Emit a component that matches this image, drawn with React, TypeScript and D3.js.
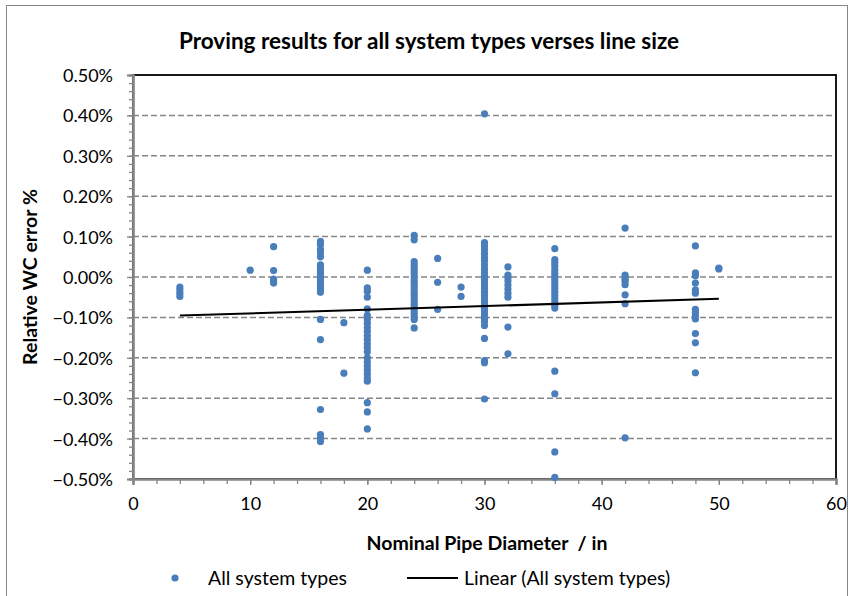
import React, { useEffect, useRef } from 'react';
import * as d3 from 'd3';

// Nominal pipe diameters (in) and relative WC error (%) proved at each one
const diameters = [4, 10, 12, 16, 18, 20, 24, 26, 28, 30, 32, 36, 42, 48, 50];
const errorsByDiameter = [
  [-0.025, -0.032, -0.040, -0.048],
  [0.017],
  [0.075, 0.016, -0.005, -0.010, -0.015],
  [0.088, 0.080, 0.068, 0.060, 0.050, 0.030, 0.024, 0.018, 0.010, 0.003, -0.005, -0.012, -0.018, -0.025, -0.032, -0.038, -0.105, -0.155, -0.328, -0.390, -0.398, -0.407],
  [-0.113, -0.238],
  [0.017, -0.027, -0.035, -0.050, -0.079, -0.095, -0.105, -0.115, -0.125, -0.135, -0.145, -0.155, -0.165, -0.175, -0.185, -0.200, -0.210, -0.220, -0.230, -0.240, -0.250, -0.258, -0.311, -0.334, -0.376],
  [0.103, 0.092, 0.038, 0.030, 0.022, 0.015, 0.008, 0.000, -0.008, -0.015, -0.022, -0.030, -0.038, -0.045, -0.052, -0.060, -0.068, -0.075, -0.082, -0.090, -0.098, -0.105, -0.126],
  [0.046, -0.013, -0.080],
  [-0.025, -0.048],
  [0.404, 0.085, 0.077, 0.068, 0.058, 0.048, 0.040, 0.030, 0.020, 0.011, 0.002, -0.006, -0.014, -0.022, -0.030, -0.038, -0.046, -0.054, -0.062, -0.070, -0.078, -0.086, -0.094, -0.102, -0.110, -0.120, -0.152, -0.207, -0.212, -0.302],
  [0.025, 0.005, -0.002, -0.010, -0.020, -0.030, -0.040, -0.050, -0.124, -0.190],
  [0.070, 0.043, 0.035, 0.027, 0.018, 0.010, 0.002, -0.006, -0.014, -0.022, -0.030, -0.038, -0.046, -0.054, -0.062, -0.070, -0.077, -0.233, -0.289, -0.433, -0.496],
  [0.121, 0.005, -0.001, -0.006, -0.011, -0.019, -0.044, -0.066, -0.398],
  [0.077, 0.010, 0.003, -0.015, -0.032, -0.040, -0.080, -0.088, -0.096, -0.104, -0.140, -0.163, -0.237],
  [0.022, 0.020],
];

// Linear trend line end points (x in, y %)
const trendX = [4, 50];
const trendY = [-0.0955, -0.054];

const FONT = "Lato, 'Open Sans', sans-serif";
const GREY = '#868686';
const BLUE = '#4a7ebb';

const App = () => {
  const svgRef = useRef(null);

  useEffect(() => {
    document.body.style.margin = '0';
    const svg = d3.select(svgRef.current);
    svg.selectAll('*').remove();

    const width = 854;
    const height = 596;
    const plot = { left: 133, right: 836, top: 75, bottom: 479 };

    const x = d3.scaleLinear().domain([0, 60]).range([plot.left, plot.right]);
    const y = d3.scaleLinear().domain([-0.5, 0.5]).range([plot.bottom, plot.top]);

    svg.attr('width', width).attr('height', height);

    svg.append('rect')
      .attr('x', 0).attr('y', 0).attr('width', width).attr('height', height)
      .attr('fill', 'white');

    // chart frame
    svg.append('rect')
      .attr('x', 6.5).attr('y', 5.5).attr('width', 841).attr('height', 600)
      .attr('fill', 'none').attr('stroke', GREY).attr('stroke-width', 1);

    // title
    svg.append('text')
      .attr('x', 429).attr('y', 49)
      .attr('text-anchor', 'middle')
      .attr('font-family', FONT).attr('font-weight', 'bold').attr('font-size', '22.5px')
      .attr('fill', '#000')
      .text('Proving results for all system types verses line size');

    // gridlines
    svg.append('g')
      .selectAll('line')
      .data(y.ticks(10).filter(d => d > -0.5 && d < 0.5))
      .enter().append('line')
      .attr('x1', plot.left).attr('x2', plot.right)
      .attr('y1', d => y(d)).attr('y2', d => y(d))
      .attr('stroke', GREY).attr('stroke-width', 1.5).attr('stroke-dasharray', '6,3');

    // plot border
    svg.append('rect')
      .attr('x', plot.left).attr('y', plot.top)
      .attr('width', plot.right - plot.left).attr('height', plot.bottom - plot.top)
      .attr('fill', 'none').attr('stroke', '#000').attr('stroke-width', 1.8);

    // y axis: minor + major
    const yMinor = svg.append('g')
      .attr('transform', `translate(${plot.left},0)`)
      .call(d3.axisLeft(y).ticks(50).tickSize(4).tickFormat(() => ''));
    const yMajor = svg.append('g')
      .attr('transform', `translate(${plot.left},0)`)
      .call(d3.axisLeft(y).ticks(10).tickSize(6).tickPadding(14).tickFormat(d => d3.format('.2f')(d) + '%'));

    // x axis: minor + major
    const xMinor = svg.append('g')
      .attr('transform', `translate(0,${plot.bottom})`)
      .call(d3.axisBottom(x).ticks(30).tickSize(5).tickFormat(() => ''));
    const xMajor = svg.append('g')
      .attr('transform', `translate(0,${plot.bottom})`)
      .call(d3.axisBottom(x).ticks(6).tickSize(6).tickPadding(12));

    [yMinor, yMajor, xMinor, xMajor].forEach(g => {
      g.select('.domain').attr('stroke', GREY).attr('stroke-width', 2.2);
      g.selectAll('.tick line').attr('stroke', GREY).attr('stroke-width', 1.3);
      g.selectAll('.tick text')
        .attr('font-family', FONT).attr('font-size', '18px').attr('fill', '#000');
    });
    yMajor.selectAll('.tick text').attr('dy', '0.36em');
    xMajor.selectAll('.tick text').attr('dy', '0.72em');

    // axis titles
    svg.append('text')
      .attr('x', 487).attr('y', 550)
      .attr('text-anchor', 'middle')
      .attr('font-family', FONT).attr('font-weight', 'bold').attr('font-size', '19.5px')
      .attr('xml:space', 'preserve')
      .text('Nominal Pipe Diameter  / in');

    svg.append('text')
      .attr('transform', `translate(37,${(plot.top + plot.bottom) / 2}) rotate(-90)`)
      .attr('text-anchor', 'middle')
      .attr('font-family', FONT).attr('font-weight', 'bold').attr('font-size', '19.5px')
      .text('Relative WC error %');

    // points
    const points = diameters.flatMap((d, i) => errorsByDiameter[i].map(v => ({ d, v })));
    svg.append('g')
      .selectAll('circle')
      .data(points)
      .enter().append('circle')
      .attr('cx', p => x(p.d)).attr('cy', p => y(p.v))
      .attr('r', 3.6)
      .attr('fill', BLUE);

    // trend line
    const line = d3.line().x(d => x(d[0])).y(d => y(d[1]));
    svg.append('path')
      .attr('d', line(trendX.map((t, i) => [t, trendY[i]])))
      .attr('fill', 'none').attr('stroke', '#000').attr('stroke-width', 2);

    // legend
    const legend = svg.append('g').attr('font-family', FONT).attr('font-size', '19.5px');
    legend.append('circle').attr('cx', 175).attr('cy', 578).attr('r', 3.6).attr('fill', BLUE);
    legend.append('text').attr('x', 208).attr('y', 585).text('All system types');
    legend.append('line')
      .attr('x1', 407).attr('x2', 458).attr('y1', 578).attr('y2', 578)
      .attr('stroke', '#000').attr('stroke-width', 2);
    legend.append('text').attr('x', 464).attr('y', 585).text('Linear (All system types)');
  }, []);

  return <svg ref={svgRef}></svg>;
};

export default App;
